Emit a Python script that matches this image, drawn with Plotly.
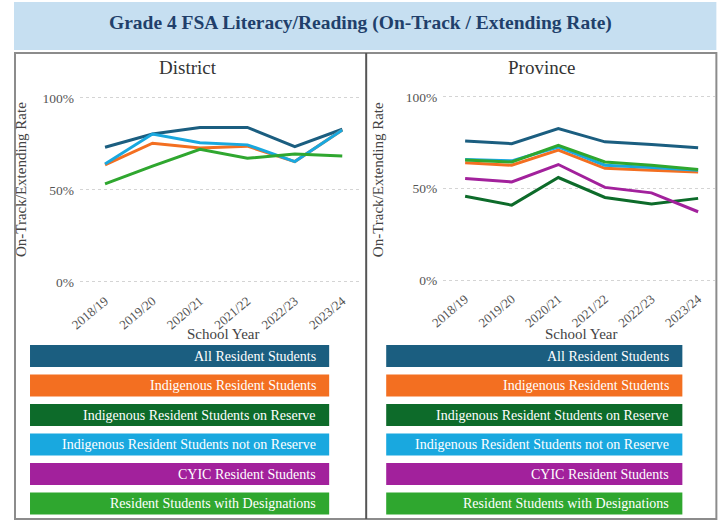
import plotly.graph_objects as go

W, H = 719, 521

years = ["2018/19", "2019/20", "2020/21", "2021/22", "2022/23", "2023/24"]

series_names = [
    "All Resident Students",
    "Indigenous Resident Students",
    "Indigenous Resident Students on Reserve",
    "Indigenous Resident Students not on Reserve",
    "CYIC Resident Students",
    "Resident Students with Designations",
]
series_colors = ["#1b5e80", "#f36f21", "#0d6b2a", "#19a8df", "#a2219c", "#2fa72f"]

# District (percent)
district_all = [73.2, 80.4, 84.0, 84.0, 73.5, 83.0]
district_indigenous = [63.6, 75.4, 72.8, 73.8, 65.4, 82.6]
district_on_reserve = [None, None, None, None, None, None]
district_not_on_reserve = [64.1, 80.4, 75.7, 74.5, 65.4, 82.6]
district_cyic = [None, None, None, None, None, None]
district_designations = [53.3, 63.0, 72.1, 67.2, 69.6, 68.5]

# Province (percent)
province_all = [76.0, 74.5, 82.7, 75.5, 74.0, 72.2]
province_indigenous = [64.0, 62.7, 71.0, 61.0, 60.0, 59.0]
province_on_reserve = [45.8, 40.9, 56.0, 45.1, 41.5, 44.6]
province_not_on_reserve = [65.8, 65.1, 72.7, 62.7, 61.5, 60.0]
province_cyic = [55.5, 53.6, 63.1, 50.6, 47.6, 37.3]
province_designations = [65.5, 64.5, 73.6, 64.5, 62.7, 60.4]

y_ticks = [0, 50, 100]
y_tick_labels = ["0%", "50%", "100%"]

district_series = [district_all, district_indigenous, district_on_reserve,
                   district_not_on_reserve, district_cyic, district_designations]
province_series = [province_all, province_indigenous, province_on_reserve,
                   province_not_on_reserve, province_cyic, province_designations]

SERIF = "Liberation Serif"

# horizontal placement correction observed in the photographed page
XOFF, XSCALE = 14.0, 0.98


def px(x):
    return max(0.0, (x - XOFF) / XSCALE) / W


def py(y):
    return 1 - y / H


fig = go.Figure()

for name, color, vals in zip(series_names, series_colors, district_series):
    fig.add_trace(go.Scatter(x=years, y=vals, mode="lines", name=name,
                             line=dict(color=color, width=3),
                             xaxis="x", yaxis="y", showlegend=False))
for name, color, vals in zip(series_names, series_colors, province_series):
    fig.add_trace(go.Scatter(x=years, y=vals, mode="lines", name=name,
                             line=dict(color=color, width=3),
                             xaxis="x2", yaxis="y2", showlegend=False))

xcommon = dict(type="category", showgrid=False, zeroline=False, showline=False,
               ticks="", tickangle=-40,
               tickfont=dict(family=SERIF, size=13, color="#555555"))
ycommon = dict(tickvals=y_ticks, ticktext=y_tick_labels, showgrid=True,
               gridcolor="#d4d4d4", griddash="dot", gridwidth=1,
               zeroline=False, showline=False, ticks="", ticklabelstandoff=5,
               tickfont=dict(family=SERIF, size=13.5, color="#555555"))

shapes = [
    dict(type="rect", xref="paper", yref="paper", x0=px(3), x1=px(716),
         y0=py(50), y1=py(2), fillcolor="#c6dff1", line=dict(width=0), layer="below"),
    dict(type="rect", xref="paper", yref="paper", x0=px(15), x1=px(716),
         y0=py(519), y1=py(53), line=dict(color="#8c8c8c", width=2), layer="below"),
    dict(type="line", xref="paper", yref="paper", x0=px(366), x1=px(366),
         y0=py(519), y1=py(53), line=dict(color="#555555", width=2)),
]

annotations = [
    dict(text="<b>Grade 4 FSA Literacy/Reading (On-Track / Extending Rate)</b>",
         x=px(360), y=py(23), xref="paper", yref="paper", showarrow=False,
         font=dict(family=SERIF, size=19.5, color="#213f6b"),
         xanchor="center", yanchor="middle"),
    dict(text="District", x=px(188), y=py(67), xref="paper", yref="paper",
         showarrow=False, font=dict(family=SERIF, size=19, color="#333333"),
         xanchor="center", yanchor="middle"),
    dict(text="Province", x=px(542), y=py(67), xref="paper", yref="paper",
         showarrow=False, font=dict(family=SERIF, size=19, color="#333333"),
         xanchor="center", yanchor="middle"),
    dict(text="On-Track/Extending Rate", x=px(21), y=py(180), xref="paper", yref="paper",
         showarrow=False, textangle=-90, font=dict(family=SERIF, size=15, color="#444444"),
         xanchor="center", yanchor="middle"),
    dict(text="On-Track/Extending Rate", x=px(378), y=py(180), xref="paper", yref="paper",
         showarrow=False, textangle=-90, font=dict(family=SERIF, size=15, color="#444444"),
         xanchor="center", yanchor="middle"),
    dict(text="School Year", x=px(223), y=py(334), xref="paper", yref="paper",
         showarrow=False, font=dict(family=SERIF, size=15, color="#444444"),
         xanchor="center", yanchor="middle"),
    dict(text="School Year", x=px(581), y=py(334), xref="paper", yref="paper",
         showarrow=False, font=dict(family=SERIF, size=15, color="#444444"),
         xanchor="center", yanchor="middle"),
]

# custom legend bars in each panel
for left, right in [(30, 329), (386, 682)]:
    for i, (name, color) in enumerate(zip(series_names, series_colors)):
        top = 345 + i * 29.5
        bot = top + 22
        shapes.append(dict(type="rect", xref="paper", yref="paper",
                           x0=px(left), x1=px(right), y0=py(bot), y1=py(top),
                           fillcolor=color, line=dict(width=0)))
        annotations.append(dict(text=name, x=px(right - 11), y=py((top + bot) / 2),
                                xref="paper", yref="paper", showarrow=False,
                                xanchor="right", yanchor="middle",
                                font=dict(family=SERIF, size=14, color="white")))

fig.update_layout(
    width=W, height=H, autosize=False,
    margin=dict(l=0, r=0, t=0, b=0),
    paper_bgcolor="white", plot_bgcolor="white",
    xaxis=dict(domain=[px(80), px(362)], range=[-0.527, 5.42], anchor="y", **xcommon),
    yaxis=dict(domain=[py(290), py(88)], range=[-4.35, 105.4], anchor="x", **ycommon),
    xaxis2=dict(domain=[px(443), px(715)], range=[-0.47, 5.37], anchor="y2", **xcommon),
    yaxis2=dict(domain=[py(288), py(86)], range=[-4.37, 106.0], anchor="x2", **ycommon),
    shapes=shapes,
    annotations=annotations,
    showlegend=False,
)

fig.write_html(
    "out.html",
    config={"responsive": False, "displayModeBar": False},
    post_script=(
        "document.documentElement.style.margin='0';"
        "document.documentElement.style.overflow='hidden';"
        "document.body.style.margin='0';document.body.style.padding='0';"
        "document.body.style.overflow='hidden';"
        "var gd=document.getElementById('{plot_id}');"
        "gd.style.position='fixed';gd.style.left='0px';gd.style.top='0px';"
        "Plotly.relayout(gd,{width:719,height:521});"
    ),
)
